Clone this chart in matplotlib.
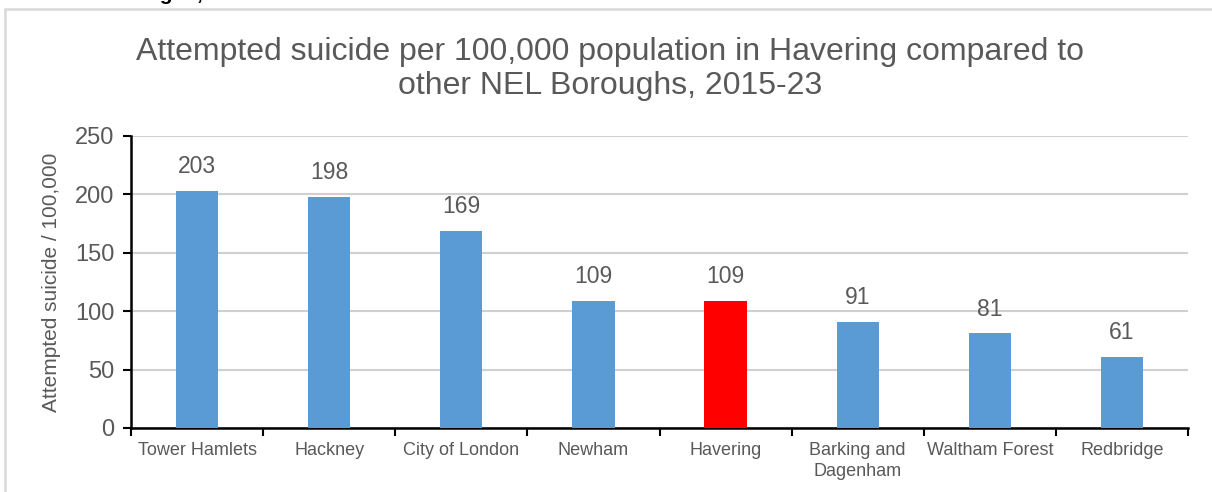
import matplotlib
matplotlib.use("Agg")
import matplotlib.pyplot as plt
from matplotlib.patches import Rectangle
from matplotlib.ticker import FixedLocator

boroughs = ["Tower Hamlets", "Hackney", "City of London", "Newham", "Havering",
            "Barking and\nDagenham", "Waltham Forest", "Redbridge"]
rates = [203, 198, 169, 109, 109, 91, 81, 61]
highlight = "Havering"
y_ticks = [0, 50, 100, 150, 200, 250]

plt.rcParams['font.family'] = ['Liberation Sans', 'DejaVu Sans']
GRAY = "#595959"
BLUE = "#5B9BD5"
RED = "#FF0000"

W, H = 1212, 492
fig = plt.figure(figsize=(W / 100, H / 100), dpi=100)

# outer frame (cropped document box)
fig.patches.append(Rectangle((5 / W, -0.1), 1.2, 1 - 9 / H + 0.1, transform=fig.transFigure,
                             fill=False, edgecolor="#d9d9d9", linewidth=1.8, zorder=0))
# cropped heading above the box (only its lower edge is visible in the reference)
fig.text(98 / W, 1 - 0.5 / H, "Boroughs, 2015-23", fontsize=15, fontweight="bold",
         color="black", ha="left", va="baseline")

ax = fig.add_axes([131 / W, 1 - 428 / H, (1188 - 131) / W, (428 - 136) / H])
x = list(range(len(boroughs)))
colors = [RED if b == highlight else BLUE for b in boroughs]
bars = ax.bar(x, rates, width=0.32, color=colors, zorder=3)
for xi, v in zip(x, rates):
    ax.annotate(f"{v}", (xi, v), xytext=(0, 9), textcoords="offset points",
                ha="center", va="bottom", fontsize=16.5, color=GRAY)

ax.set_xlim(-0.5, len(boroughs) - 0.5)
ax.set_ylim(0, 250)
ax.set_yticks(y_ticks)
ax.set_xticks(x)
ax.set_xticklabels(boroughs, fontsize=13, color=GRAY, linespacing=1.3)
ax.xaxis.set_minor_locator(FixedLocator([i - 0.5 for i in range(len(boroughs) + 1)]))
ax.tick_params(axis="x", which="major", length=0, pad=10)
ax.tick_params(axis="x", which="minor", length=6, width=1.5, color="black", direction="out")
ax.tick_params(axis="y", length=6, width=1.5, color="black", labelsize=17, labelcolor=GRAY, pad=6)
ax.yaxis.grid(True, color="#d0d0d0", linewidth=1.5, zorder=0)
ax.set_axisbelow(True)
for s in ["top", "right"]:
    ax.spines[s].set_visible(False)
for s in ["left", "bottom"]:
    ax.spines[s].set_linewidth(1.8)
    ax.spines[s].set_color("black")
ax.set_ylabel("Attempted suicide / 100,000", fontsize=15, color=GRAY, labelpad=10)

fig.text(610 / W, 1 - 37 / H,
         "Attempted suicide per 100,000 population in Havering compared to\nother NEL Boroughs, 2015-23",
         ha="center", va="top", fontsize=23, color=GRAY, linespacing=1.17)

fig.savefig("out.png", dpi=100)
